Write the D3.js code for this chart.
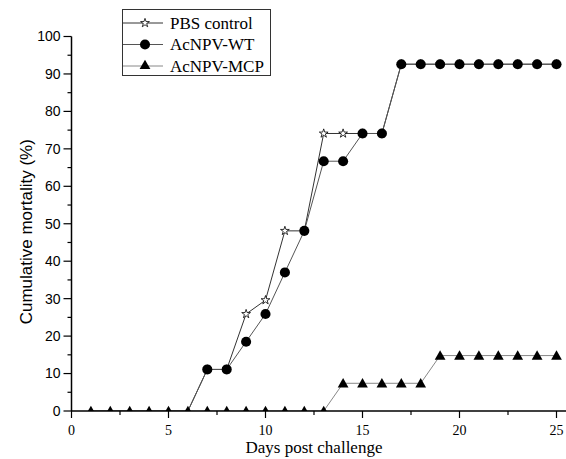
<!DOCTYPE html>
<html>
<head>
<meta charset="utf-8">
<script src="https://cdn.jsdelivr.net/npm/d3@7"></script>
<style>
  body { margin: 0; background: #fff; }
  svg { display: block; }
</style>
</head>
<body>
<div id="chart"></div>
<script>
// days 1..25, mortality in %
const days = d3.range(1, 26);
const pbsControl = [0, 0, 0, 0, 0, 0, 11.1, 11.1, 25.9, 29.6, 48.1, 48.1, 74.1, 74.1, 74.1, 74.1,
  92.6, 92.6, 92.6, 92.6, 92.6, 92.6, 92.6, 92.6, 92.6];
const acnpvWT = [0, 0, 0, 0, 0, 0, 11.1, 11.1, 18.5, 25.9, 37.0, 48.1, 66.7, 66.7, 74.1, 74.1,
  92.6, 92.6, 92.6, 92.6, 92.6, 92.6, 92.6, 92.6, 92.6];
const acnpvMCP = [0, 0, 0, 0, 0, 0, 0, 0, 0, 0, 0, 0, 0, 7.4, 7.4, 7.4, 7.4, 7.4,
  14.8, 14.8, 14.8, 14.8, 14.8, 14.8, 14.8];
const seriesNames = ["PBS control", "AcNPV-WT", "AcNPV-MCP"];
const xTicks = [0, 5, 10, 15, 20, 25];
const yTicks = [0, 10, 20, 30, 40, 50, 60, 70, 80, 90, 100];

const w = 566, h = 459;
const serif = "'Liberation Serif', 'Times New Roman', serif";
const sans = "'Liberation Sans', Arial, sans-serif";

const svg = d3.select('#chart').append('svg')
  .attr('width', w).attr('height', h);

const x = d3.scaleLinear().domain([0, 25]).range([71.5, 556.5]);
const y = d3.scaleLinear().domain([0, 100]).range([411, 36.5]);

// plot clip (symbols on the x axis are cut by it)
svg.append('clipPath').attr('id', 'plotclip').append('rect')
  .attr('x', x(0)).attr('y', 0).attr('width', w - x(0)).attr('height', y(0));

// series (zero-valued stars/circles sit under the triangles)
const series = [
  { name: seriesNames[0], values: pbsControl, line: '#333', symbol: d3.symbolStar, size: 24, fill: '#fff', zeros: false },
  { name: seriesNames[1], values: acnpvWT, line: '#555', symbol: d3.symbolCircle, size: 80, fill: '#000', zeros: false },
  { name: seriesNames[2], values: acnpvMCP, line: '#888', symbol: d3.symbolTriangle, size: 50, fill: '#000', zeros: true }
];

const line = d3.line().x((d, i) => x(days[i])).y(d => y(d));

series.forEach(s => {
  const g = svg.append('g').attr('clip-path', 'url(#plotclip)');
  g.append('path').datum(s.values).attr('d', line)
    .attr('fill', 'none').attr('stroke', s.line).attr('stroke-width', 1);
  const pts = s.values.map((v, i) => ({ day: days[i], v: v })).filter(p => s.zeros || p.v > 0);
  g.selectAll('path.pt').data(pts).enter().append('path').attr('class', 'pt')
    .attr('transform', d => `translate(${x(d.day)},${y(d.v) + (s.symbol === d3.symbolTriangle ? 1 : 0)})`)
    .attr('d', d3.symbol().type(s.symbol).size(s.size))
    .attr('fill', s.fill).attr('stroke', '#000').attr('stroke-width', s.fill === '#fff' ? 0.8 : 0);
});

// axes
const xAxis = svg.append('g').attr('transform', `translate(0,${y(0)})`);
xAxis.append('line').attr('x1', x(0)).attr('x2', w).attr('stroke', '#000').attr('stroke-width', 1.5);
xAxis.selectAll('.minor').data(d3.range(0, 25.1, 2.5).filter(v => v % 5 !== 0)).enter()
  .append('line').attr('x1', d => x(d)).attr('x2', d => x(d)).attr('y1', 0).attr('y2', 4)
  .attr('stroke', '#000').attr('stroke-width', 1.2);
xAxis.selectAll('.major').data(xTicks).enter()
  .append('line').attr('x1', d => x(d)).attr('x2', d => x(d)).attr('y1', 0).attr('y2', 7)
  .attr('stroke', '#000').attr('stroke-width', 1.2);
xAxis.selectAll('text').data(xTicks).enter().append('text')
  .attr('x', d => x(d)).attr('y', 24).attr('text-anchor', 'middle')
  .style('font-family', serif).style('font-size', '14px').text(d => d);

const yAxis = svg.append('g').attr('transform', `translate(${x(0)},0)`);
yAxis.append('line').attr('y1', y(0)).attr('y2', y(100)).attr('stroke', '#000').attr('stroke-width', 1.5);
yAxis.selectAll('.minor').data(d3.range(5, 100, 10)).enter()
  .append('line').attr('y1', d => y(d)).attr('y2', d => y(d)).attr('x1', 0).attr('x2', -4)
  .attr('stroke', '#000').attr('stroke-width', 1.2);
yAxis.selectAll('.major').data(yTicks).enter()
  .append('line').attr('y1', d => y(d)).attr('y2', d => y(d)).attr('x1', 0).attr('x2', -8)
  .attr('stroke', '#000').attr('stroke-width', 1.2);
yAxis.selectAll('text').data(yTicks).enter().append('text')
  .attr('x', -11).attr('y', d => y(d)).attr('dy', '0.35em').attr('text-anchor', 'end')
  .style('font-family', sans).style('font-size', '14px').text(d => d);

// axis titles
svg.append('text').attr('x', (x(0) + x(25)) / 2).attr('y', 453).attr('text-anchor', 'middle')
  .style('font-family', serif).style('font-size', '17px').text('Days post challenge');
svg.append('text').attr('transform', `translate(32,${(y(0) + y(100)) / 2 + 8}) rotate(-90)`)
  .attr('text-anchor', 'middle')
  .style('font-family', sans).style('font-size', '17px').text('Cumulative mortality (%)');

// legend
const legend = svg.append('g').attr('id', 'legend');
legend.append('rect').attr('x', 122.5).attr('y', 9.5).attr('width', 148).attr('height', 66)
  .attr('fill', '#fff').attr('stroke', '#333').attr('stroke-width', 1);
series.forEach((s, i) => {
  const ly = 23 + i * 21.5;
  legend.append('line').attr('x1', 123).attr('x2', 163).attr('y1', ly).attr('y2', ly)
    .attr('stroke', s.line).attr('stroke-width', 1);
  legend.append('path').attr('transform', `translate(145,${ly})`)
    .attr('d', d3.symbol().type(s.symbol).size(s.size))
    .attr('fill', s.fill).attr('stroke', '#000').attr('stroke-width', s.fill === '#fff' ? 0.8 : 0);
  legend.append('text').attr('x', 170).attr('y', ly).attr('dy', '0.35em')
    .style('font-family', serif).style('font-size', '17px').text(s.name);
});
</script>
</body>
</html>
